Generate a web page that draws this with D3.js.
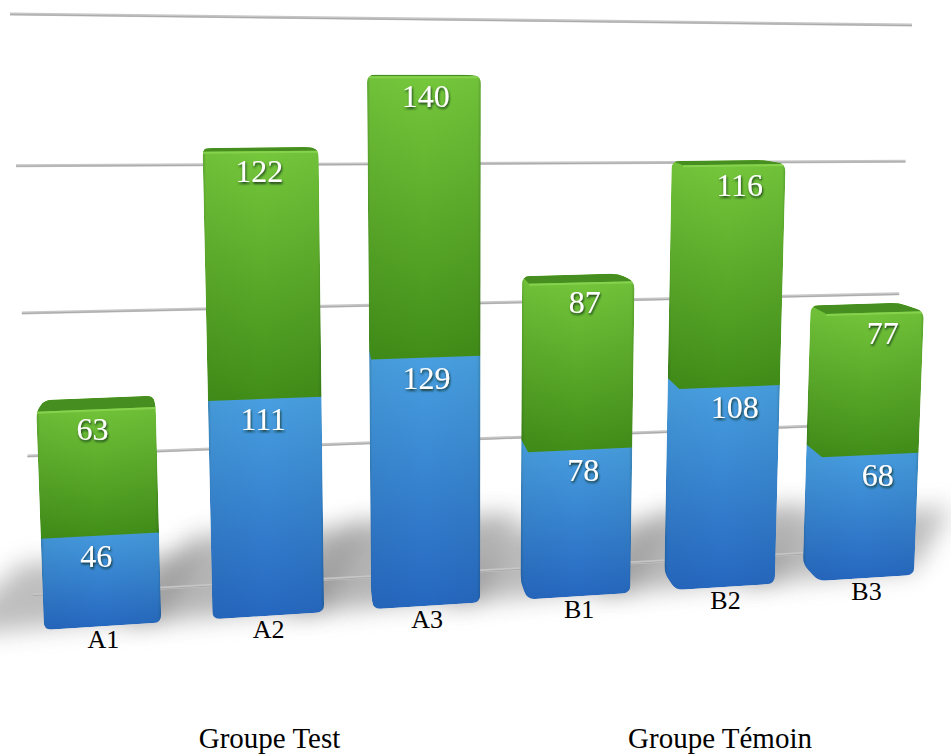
<!DOCTYPE html>
<html>
<head>
<meta charset="utf-8">
<script src="https://cdn.jsdelivr.net/npm/d3@7/dist/d3.min.js"></script>
<style>
  html, body { margin: 0; padding: 0; background: #fff; overflow: hidden; }
  text { font-family: "Liberation Serif", "Times New Roman", serif; }
</style>
</head>
<body>
<svg id="chart" width="951" height="756"></svg>
<script>
// Stacked counts per sample
const categories = ["A1", "A2", "A3", "B1", "B2", "B3"];
const blueValues = [46, 111, 129, 78, 108, 68];
const greenValues = [63, 122, 140, 87, 116, 77];
const gridTicks = [0, 75, 150, 225, 300];
const groupNames = ["Groupe Test", "Groupe Témoin"];

const svg = d3.select("#chart");
const defs = svg.append("defs");

// Square-to-quad homography: unit square (u, v) to the screen
function homography(p00, p10, p11, p01) {
  const sx = p00[0] - p10[0] + p11[0] - p01[0], sy = p00[1] - p10[1] + p11[1] - p01[1];
  const dx1 = p10[0] - p11[0], dx2 = p01[0] - p11[0], dy1 = p10[1] - p11[1], dy2 = p01[1] - p11[1];
  const den = dx1 * dy2 - dx2 * dy1;
  const g = (sx * dy2 - dx2 * sy) / den, h = (dx1 * sy - sx * dy1) / den;
  const a = p10[0] - p00[0] + g * p10[0], b = p01[0] - p00[0] + h * p01[0], c = p00[0];
  const d = p10[1] - p00[1] + g * p10[1], e = p01[1] - p00[1] + h * p01[1], f = p00[1];
  return (u, v) => {
    const w = g * u + h * v + 1;
    return [(a * u + b * v + c) / w, (d * u + e * v + f) / w];
  };
}

const xBand = d3.scaleBand().domain(categories).range([0, 1]).paddingInner(0.31).paddingOuter(0);
const xWarp = d3.scalePow().exponent(0.993).domain([0, 1]).range([0, 1]);
const yUnit = d3.scaleLinear().domain([0, 300]).range([0, 1]);

// Front plane of the bars and back wall carrying the grid lines
const frontPlane = homography([44, 630], [914, 575], [935, 16], [22, 9]);
const front = (u, v) => frontPlane(xWarp(u), v);
const wall = homography([33, 595], [887, 549], [912, 25], [10, 14]);

// Depth of a box: left and right edges of the back face recede to their own points
const vanishLeft = [300, 28], vanishRight = [69, 28], depth = 0.03;
const toBack = (p, target) => [p[0] + (target[0] - p[0]) * depth, p[1] + (target[1] - p[1]) * depth];

const line = d3.line().curve(d3.curveLinearClosed);

// Closed path whose corners are cut with a small quadratic arc
function roundedPath(pts, r) {
  const n = pts.length;
  const path = d3.path();
  pts.forEach((p, i) => {
    const prev = pts[(i + n - 1) % n], next = pts[(i + 1) % n];
    const toward = (q) => {
      const dx = q[0] - p[0], dy = q[1] - p[1], len = Math.hypot(dx, dy);
      const k = Math.min(r, len / 2) / len;
      return [p[0] + dx * k, p[1] + dy * k];
    };
    const a = toward(prev), b = toward(next);
    if (i === 0) path.moveTo(a[0], a[1]); else path.lineTo(a[0], a[1]);
    path.quadraticCurveTo(p[0], p[1], b[0], b[1]);
  });
  path.closePath();
  return path.toString();
}

function boxCorners(cat, v0, v1) {
  const l = xBand(cat), r = l + xBand.bandwidth();
  const fbl = front(l, yUnit(v0)), fbr = front(r, yUnit(v0));
  const ftl = front(l, yUnit(v1)), ftr = front(r, yUnit(v1));
  const all = [fbl, fbr, ftr, ftl,
    toBack(fbl, vanishLeft), toBack(fbr, vanishRight), toBack(ftr, vanishRight), toBack(ftl, vanishLeft)];
  return { fbl, fbr, ftl, ftr, all };
}

// Floor shadows, longer behind the taller stacks
defs.append("filter").attr("id", "soft")
  .attr("filterUnits", "userSpaceOnUse").attr("x", -100).attr("y", 400).attr("width", 1150).attr("height", 356)
  .append("feGaussianBlur").attr("stdDeviation", 12);
const shadowStrength = d3.scaleLinear().domain([109, 269]).range([0.5, 0.58]);
const shadowReach = d3.scaleLinear().domain([109, 269]).range([34, 46]);
const shadowLayer = svg.append("g");
categories.forEach((cat, i) => {
  const l = xBand(cat), r = l + xBand.bandwidth(), total = blueValues[i] + greenValues[i];
  const pts = [
    front(l - 0.1, yUnit(0)), front(r, yUnit(3)),
    front(r + 0.045, yUnit(shadowReach(total))), front(l - 0.02, yUnit(shadowReach(total)))
  ];
  shadowLayer.append("path").attr("d", line(pts)).attr("fill", "#7e7e7e")
    .attr("opacity", shadowStrength(total)).attr("filter", "url(#soft)");
});

// Grid lines on the back wall
const gridLayer = svg.append("g");
gridTicks.forEach(t => {
  const p0 = wall(0, yUnit(t)), p1 = wall(1, yUnit(t));
  gridLayer.append("line").attr("x1", p0[0]).attr("y1", p0[1]).attr("x2", p1[0]).attr("y2", p1[1])
    .attr("stroke", "#c6c6c6").attr("stroke-width", 3);
  gridLayer.append("line").attr("x1", p0[0]).attr("y1", p0[1] + 0.6).attr("x2", p1[0]).attr("y2", p1[1] + 0.6)
    .attr("stroke", "#a9a9a9").attr("stroke-width", 1);
});

// Segment fills, from light at the top of a segment to dark at its foot
function verticalGradient(id, top, bottom) {
  const g = defs.append("linearGradient").attr("id", id).attr("x1", 0).attr("y1", 0).attr("x2", 0).attr("y2", 1);
  g.append("stop").attr("offset", "0%").attr("stop-color", top);
  g.append("stop").attr("offset", "100%").attr("stop-color", bottom);
}
verticalGradient("blueFill", "#4aa2e2", "#2566bf");
verticalGradient("greenFill", "#76c83c", "#418d18");

// Darkened left and right rims
const rim = defs.append("linearGradient").attr("id", "rim").attr("x1", 0).attr("y1", 0).attr("x2", 1).attr("y2", 0);
[[0, 0.22], [0.03, 0.04], [0.5, 0], [0.97, 0.04], [1, 0.22]].forEach(s => {
  rim.append("stop").attr("offset", s[0]).attr("stop-color", "#0a2a10").attr("stop-opacity", s[1]);
});

function drawBox(layer, cat, v0, v1, fill) {
  const hull = d3.polygonHull(boxCorners(cat, v0, v1).all);
  layer.append("path").attr("d", line(hull)).attr("fill", `url(#${fill})`);
  layer.append("path").attr("d", line(hull)).attr("fill", "url(#rim)");
}

const barLayer = svg.append("g");
categories.forEach((cat, i) => {
  const lower = blueValues[i], total = lower + greenValues[i];
  const whole = boxCorners(cat, 0, total);
  defs.append("clipPath").attr("id", "bar-" + cat)
    .append("path").attr("d", roundedPath(d3.polygonHull(whole.all), 8));
  const bar = barLayer.append("g").attr("clip-path", `url(#bar-${cat})`);
  drawBox(bar, cat, 0, lower, "blueFill");
  drawBox(bar, cat, lower, total, "greenFill");
  // Top of the box
  const { ftl, ftr } = whole;
  const btl = toBack(ftl, vanishLeft), btr = toBack(ftr, vanishRight);
  bar.append("path").attr("d", line([ftl, ftr, btr, btl])).attr("fill", "#478e20");
  bar.append("line").attr("x1", ftl[0]).attr("y1", ftl[1] + 1).attr("x2", ftr[0]).attr("y2", ftr[1] + 1)
    .attr("stroke", "#86d24e").attr("stroke-width", 2);
});

// Value labels, sitting under the top of each segment
defs.append("filter").attr("id", "emboss").attr("x", "-30%").attr("y", "-30%").attr("width", "160%").attr("height", "170%")
  .append("feDropShadow").attr("dx", 0.8).attr("dy", 1.8).attr("stdDeviation", 1)
  .attr("flood-color", "#0c2a14").attr("flood-opacity", 0.9);
const labelShift = d3.scaleLinear().domain([0, 1]).range([-5, 8]);
const labelLayer = svg.append("g").attr("fill", "#fff").attr("font-size", 32).attr("text-anchor", "middle")
  .attr("filter", "url(#emboss)");
categories.forEach((cat, i) => {
  const mid = xBand(cat) + xBand.bandwidth() / 2;
  [[blueValues[i], blueValues[i]], [greenValues[i], blueValues[i] + greenValues[i]]].forEach(([value, top]) => {
    const p = front(mid, yUnit(top));
    labelLayer.append("text").attr("x", p[0] + labelShift(mid)).attr("y", p[1] + 31).text(value);
  });
});

// Category labels under each bar
const catLayer = svg.append("g").attr("fill", "#000").attr("font-size", 26).attr("text-anchor", "middle");
categories.forEach(cat => {
  const p = front(xBand(cat) + xBand.bandwidth() / 2, yUnit(0));
  catLayer.append("text").attr("x", p[0]).attr("y", p[1] + 22).text(cat);
});

// Group captions along the bottom
const groupX = d3.scalePoint().domain(groupNames).range([269.5, 720]);
const groupLayer = svg.append("g").attr("fill", "#000").attr("font-size", 29).attr("text-anchor", "middle");
groupNames.forEach(name => {
  groupLayer.append("text").attr("x", groupX(name)).attr("y", 748).text(name);
});
</script>
</body>
</html>
